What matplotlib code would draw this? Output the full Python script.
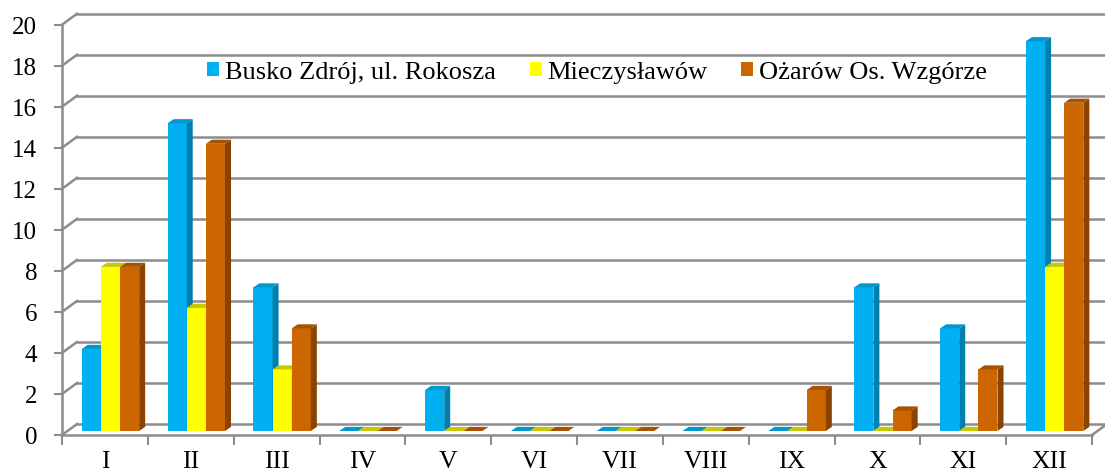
import matplotlib.pyplot as plt
from matplotlib.patches import Polygon, Rectangle
from matplotlib.transforms import offset_copy

months = ['I', 'II', 'III', 'IV', 'V', 'VI', 'VII', 'VIII', 'IX', 'X', 'XI', 'XII']
busko = [4, 15, 7, 0, 2, 0, 0, 0, 0, 7, 5, 19]
mieczyslawow = [8, 6, 3, 0, 0, 0, 0, 0, 0, 0, 0, 8]
ozarow = [8, 14, 5, 0, 0, 0, 0, 0, 2, 1, 3, 16]
names = ['Busko Zdrój, ul. Rokosza', 'Mieczysławów', 'Ożarów Os. Wzgórze']

# front, side, top colours per series
colors = [('#00B0F0', '#0080AE', '#0098D0'),
          ('#FFFF00', '#C4C400', '#C8C800'),
          ('#CC6600', '#8A4300', '#A65200')]

plt.rcParams['font.family'] = ['Liberation Serif', 'DejaVu Serif']
W, H = 1105, 477
fig = plt.figure(figsize=(W / 100, H / 100), dpi=100)
ax = fig.add_axes([62 / W, (H - 436) / H, 1030 / W, 410.3 / H])
ax.set_xlim(0, 12)
ax.set_ylim(0, 20)
for s in ax.spines.values():
    s.set_visible(False)

grid_c = '#8C8C8C'
back = offset_copy(ax.transData, fig=fig, x=15, y=11, units='dots')
for v in range(0, 21, 2):
    ax.plot([0, 12.2], [v, v], color=grid_c, lw=1.8, transform=back, clip_on=False, zorder=1)
# left wall diagonals
for v in range(0, 21, 2):
    x0, y0 = ax.transData.transform((0, v))
    x1, y1 = back.transform((0, v))
    ax.plot([x0, x1], [y0, y1], color=grid_c, lw=1.8, transform=None, clip_on=False, zorder=1)
# floor front edge and right diagonal
ax.plot([0, 12], [0, 0], color=grid_c, lw=1.8, clip_on=False, zorder=5)
x0, y0 = ax.transData.transform((12, 0))
x1, y1 = back.transform((12, 0))
ax.plot([x0, x1], [y0, y1], color=grid_c, lw=1.8, transform=None, clip_on=False, zorder=5)
ax.plot([0, 0], [0, 20], color=grid_c, lw=1.8, clip_on=False, zorder=5)

# bars with pseudo 3D faces, standing a little behind the front edge
mid = offset_copy(ax.transData, fig=fig, x=0, y=4, units='dots')
bw = 0.223
ddx, ddy = 0.07, 0.2
series = [busko, mieczyslawow, ozarow]
z = 10
for i in range(len(months)):
    for j, vals in enumerate(series):
        v = vals[i]
        xl = i + 0.23 + j * bw
        xr = xl + bw
        front, side, top = colors[j]
        ax.add_patch(Rectangle((xl, 0), bw, v, facecolor=front, edgecolor='none',
                               zorder=z, transform=mid, clip_on=False))
        ax.add_patch(Polygon([(xr, 0), (xr + ddx, ddy), (xr + ddx, v + ddy), (xr, v)],
                             facecolor=side, edgecolor='none', zorder=z, transform=mid, clip_on=False))
        ax.add_patch(Polygon([(xl, v), (xr, v), (xr + ddx, v + ddy), (xl + ddx, v + ddy)],
                             facecolor=top, edgecolor='none', zorder=z, transform=mid, clip_on=False))
        z += 1

ax.set_yticks(range(0, 21, 2))
ax.tick_params(axis='y', direction='out', length=6, width=1.5, color=grid_c, pad=12, labelsize=18)
ax.set_xticks(range(0, 13))
ax.set_xticklabels([])
ax.set_xticks([i + 0.5 for i in range(12)], minor=True)
ax.set_xticklabels(months, minor=True)
ax.tick_params(axis='x', which='major', direction='out', length=7, width=1.5, color=grid_c)
ax.tick_params(axis='x', which='minor', length=0, pad=11, labelsize=18.5)

handles = [Rectangle((0, 0), 1, 1, facecolor=c[0]) for c in colors]
fig.legend(handles, names, loc='center', bbox_to_anchor=(597 / W, 1 - 73 / H), ncol=3, frameon=False,
           fontsize=19, handlelength=0.45, handleheight=0.45, handletextpad=0.2, columnspacing=1.3)

fig.savefig('out.png', dpi=100)
